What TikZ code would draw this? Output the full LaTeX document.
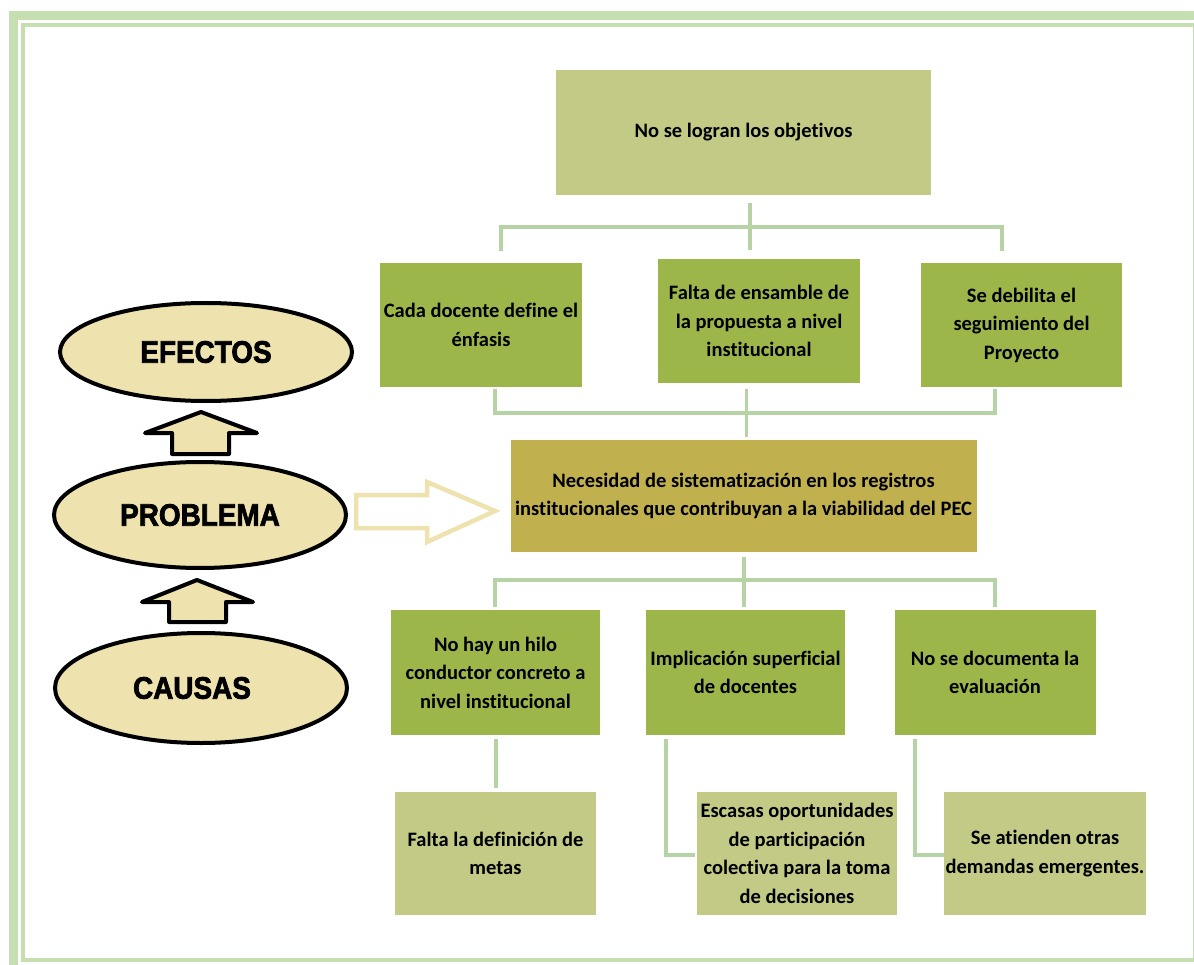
\documentclass[tikz,border=0pt]{standalone}
\usepackage{fontspec}
\setmainfont{Carlito}[Ligatures=NoCommon]
\newfontfamily\ellfont{Liberation Sans}[BoldFeatures={FakeBold=2.5}]
\usetikzlibrary{shapes.geometric}

\definecolor{framegreen}{HTML}{C6DFB1}
\definecolor{olivelight}{HTML}{C3CA86}
\definecolor{olivegreen}{HTML}{9CB64A}
\definecolor{goldbox}{HTML}{C0B14E}
\definecolor{linkgreen}{HTML}{B5D3A4}
\definecolor{beige}{HTML}{EEE2AE}

\tikzset{
  box/.style={inner sep=0pt, align=center,
    font=\fontsize{20.5}{28.5}\selectfont\bfseries},
  lightbox/.style={box, fill=olivelight},
  greenbox/.style={box, fill=olivegreen},
  goldbox/.style={box, fill=goldbox},
  conn/.style={draw=linkgreen, line width=3.5pt},
  oval/.style={ellipse, draw=black, line width=4pt, fill=beige,
    inner sep=0pt, font=\ellfont\fontsize{31}{31}\selectfont\bfseries},
  uparrow/.style={draw=black, line width=4pt, fill=beige, line join=round},
  hollowarrow/.style={draw=beige, line width=4.5pt, fill=white, line join=miter}
}

\begin{document}
\begin{tikzpicture}[x=1pt, y=-1pt]
\useasboundingbox (0,0) rectangle (1194,965);
\clip (0,0) rectangle (1194,965);

% page frame: thick outer band and thin inner band
\draw[framegreen, line width=9pt] (13.5,16) rectangle (1260,1010);
\draw[framegreen, line width=4pt] (23,25) rectangle (1195,960);

% effects tree
\node[lightbox, minimum width=375pt, minimum height=125pt] (top) at (743.5,132.5) {No se logran los objetivos};
\node[greenbox, minimum width=202pt, minimum height=124pt] (ea) at (481,325) {Cada docente define el\\énfasis};
\node[greenbox, minimum width=202pt, minimum height=124pt] (eb) at (759,321) {Falta de ensamble de\\la propuesta a nivel\\institucional};
\node[greenbox, minimum width=201pt, minimum height=124pt] (ec) at (1021.5,325) {Se debilita el\\seguimiento del\\Proyecto};

% central problem
\node[goldbox, minimum width=466pt, minimum height=112pt] (prob) at (743.5,496) {Necesidad de sistematización en los registros\\institucionales que contribuyan a la viabilidad del PEC};

% causes
\node[greenbox, minimum width=209pt, minimum height=125pt] (ca) at (495.5,672.5) {No hay un hilo\\conductor concreto a\\nivel institucional};
\node[greenbox, minimum width=199pt, minimum height=125pt] (cb) at (745.5,672.5) {Implicación superficial\\de docentes};
\node[greenbox, minimum width=201pt, minimum height=125pt] (cc) at (995,672.5) {No se documenta la\\evaluación};

% sub-causes
\node[lightbox, minimum width=201pt, minimum height=123pt] (sa) at (495.5,853.5) {Falta la definición de\\metas};
\node[lightbox, minimum width=200pt, minimum height=123pt] (sb) at (797,853.5) {Escasas oportunidades\\de participación\\colectiva para la toma\\de decisiones};
\node[lightbox, minimum width=202pt, minimum height=123pt] (sc) at (1045,853.5) {Se atienden otras\\demandas emergentes.};

% bracket: top box to effects
\coordinate (t0) at (750,203);
\coordinate (t1) at (750,250);
\coordinate (tj) at (750,227);
\coordinate (tl) at (501,251);
\coordinate (tr) at (1002,251);
\draw[conn] (t0) -- (t1);
\draw[conn] (tl) -- (tl |- tj) -- (tr |- tj) -- (tr);

% bracket: effects to problem
\coordinate (m0) at (746.5,389);
\coordinate (m1) at (746.5,437);
\coordinate (mj) at (746.5,413);
\coordinate (ml) at (495,389);
\coordinate (mr) at (995,389);
\draw[conn] (m0) -- (m1);
\draw[conn] (ml) -- (ml |- mj) -- (mr |- mj) -- (mr);

% bracket: problem to causes
\coordinate (b0) at (744,557);
\coordinate (b1) at (744,607);
\coordinate (bj) at (744,580);
\coordinate (bl) at (495,607);
\coordinate (br) at (995,607);
\draw[conn] (b0) -- (b1);
\draw[conn] (bl) -- (bl |- bj) -- (br |- bj) -- (br);

% causes to sub-causes
\coordinate (d0) at (496,739);
\coordinate (d1) at (496,788);
\draw[conn] (d0) -- (d1);
\coordinate (e0) at (666,739);
\coordinate (e1) at (695,855);
\draw[conn] (e0) |- (e1);
\coordinate (f0) at (915,739);
\coordinate (f1) at (944,855);
\draw[conn] (f0) |- (f1);

% legend ovals
\node[oval, minimum width=292pt, minimum height=98pt] (efectos) at (206,352) {\scalebox{0.9}[1]{EFECTOS}};
\node[oval, minimum width=292pt, minimum height=106pt] (problema) at (200,515) {\scalebox{0.9}[1]{PROBLEMA}};
\node[oval, minimum width=292pt, minimum height=110pt] (causas) at (201,688) {\scalebox{0.9}[1]{CAUSAS}\hspace*{18pt}};

% block arrows between ovals
\draw[uparrow] (201,412) -- (257,433) -- (229,433) -- (229,454) -- (172,454) -- (172,433) -- (145,433) -- cycle;
\draw[uparrow] (197,580) -- (253,602) -- (226,602) -- (226,622) -- (169,622) -- (169,602) -- (142,602) -- cycle;

% hollow arrow towards the problem
\draw[hollowarrow] (356,495) -- (427,495) -- (427,482) -- (495,511) -- (427,542) -- (427,528) -- (356,528) -- cycle;
\end{tikzpicture}
\end{document}
